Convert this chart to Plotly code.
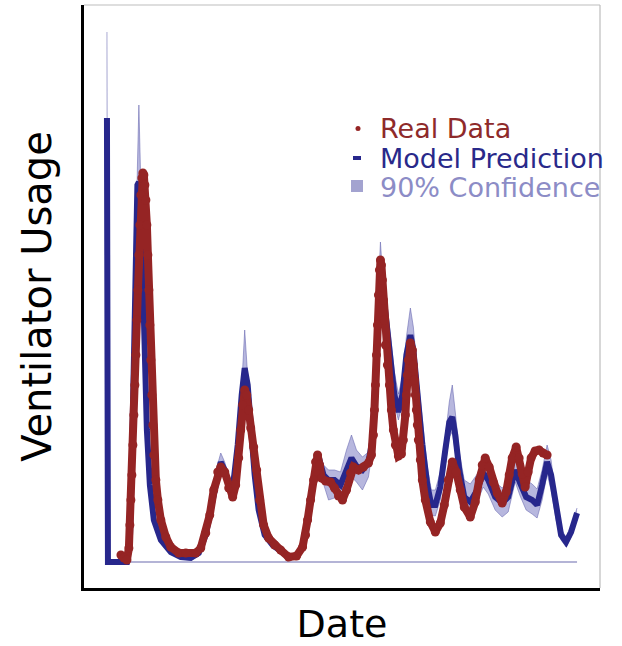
import plotly.graph_objects as go

# ---------------- data (day index, ventilator usage) ----------------
model_days = [0, 1, 20, 23, 25, 27, 29, 30.5, 32, 34, 36, 38, 40, 43, 47, 54, 64, 74, 84, 92,
              99, 106, 111, 114, 118, 123, 127, 131, 135, 138, 141, 144, 148, 152, 158, 166, 174, 182, 190, 196,
              201, 206, 210, 213, 217, 222, 228, 234, 240, 245, 250, 256, 262, 266, 269, 272, 274, 276, 280, 284,
              288, 292, 296, 300, 304, 307, 311, 316, 321, 325, 329, 334, 339, 343, 346, 349, 353, 358, 364, 371,
              377, 382, 389, 396, 402, 409, 414, 420, 426, 431, 436, 441, 445, 450, 455, 460, 465, 471]
model_pred = [444, 0, 0, 22, 102, 212, 322, 377, 380, 347, 282, 202, 132, 77, 42, 22, 10, 5, 4, 9,
              27, 62, 90, 100, 92, 72, 82, 117, 167, 194, 177, 132, 87, 52, 27, 17, 10, 5, 6, 14,
              40, 72, 100, 102, 87, 82, 82, 77, 94, 104, 96, 92, 100, 122, 182, 262, 292, 277, 237, 202,
              167, 150, 167, 207, 227, 212, 167, 117, 77, 57, 57, 75, 112, 140, 145, 127, 92, 65, 60, 72,
              89, 82, 65, 59, 65, 92, 79, 65, 62, 57, 77, 100, 87, 52, 27, 20, 30, 49]
ci_upper = [530, 0, 2, 27, 108, 220, 332, 395, 457, 360, 292, 210, 138, 82, 46, 25, 12, 7, 6, 12,
            31, 68, 98, 109, 100, 82, 90, 125, 175, 232, 180, 140, 94, 58, 31, 20, 12, 7, 8, 17,
            45, 78, 106, 108, 97, 92, 92, 90, 112, 127, 112, 105, 110, 132, 195, 275, 320, 290, 260, 228,
            190, 168, 185, 225, 254, 235, 190, 140, 95, 72, 72, 90, 125, 160, 177, 150, 110, 82, 78, 88,
            102, 97, 80, 74, 80, 105, 95, 82, 78, 73, 92, 117, 102, 62, 33, 25, 35, 54]
ci_lower = [440, 0, 0, 18, 96, 204, 312, 365, 370, 335, 272, 194, 126, 72, 38, 19, 8, 3, 2, 6,
            23, 56, 82, 92, 85, 64, 72, 108, 160, 180, 165, 124, 80, 46, 23, 14, 8, 3, 4, 11,
            35, 66, 96, 96, 78, 62, 64, 62, 78, 85, 80, 72, 85, 112, 170, 250, 280, 268, 225, 190,
            158, 142, 158, 195, 215, 200, 150, 105, 65, 47, 46, 62, 100, 125, 130, 110, 78, 52, 48, 60,
            75, 68, 52, 45, 50, 80, 66, 52, 48, 44, 62, 88, 72, 42, 22, 15, 25, 44]

real_days = [14, 17, 20, 22, 23, 24, 25, 26, 27, 28, 29, 30, 31, 32, 33, 34, 35, 36, 37, 38,
             39, 40, 41, 42, 43, 44, 45, 46, 47, 49, 51, 54, 59, 64, 72, 79, 89, 94, 99, 103,
             107, 111, 114, 118, 122, 126, 129, 132, 134, 136, 138, 140, 142, 144, 147, 150, 153, 157, 162, 168,
             174, 182, 190, 196, 199, 201, 204, 207, 209, 211, 213, 215, 219, 224, 228, 232, 236, 240, 244, 247,
             252, 257, 262, 265, 267, 268, 269, 270, 271, 272, 273, 274, 275, 276, 277, 278, 279, 281, 283, 285,
             287, 289, 292, 295, 297, 299, 300, 301, 302, 304, 306, 307, 308, 309, 310, 311, 312, 314, 316, 319,
             324, 329, 334, 338, 342, 346, 350, 354, 358, 364, 369, 373, 376, 379, 383, 387, 391, 396, 400, 403,
             406, 410, 413, 416, 419, 422, 425, 429, 433, 437, 441]
real_usage = [7, 4, 2, 14, 37, 62, 87, 117, 147, 177, 207, 242, 272, 307, 337, 367, 384, 389, 387, 377,
              362, 337, 307, 272, 237, 202, 167, 137, 107, 82, 62, 42, 25, 15, 9, 9, 9, 14, 29, 47,
              72, 90, 95, 90, 74, 65, 77, 104, 132, 157, 172, 167, 152, 134, 115, 92, 62, 37, 24, 17,
              12, 5, 6, 15, 27, 42, 62, 82, 100, 107, 97, 84, 81, 80, 74, 66, 62, 72, 89, 95,
              92, 95, 99, 107, 127, 152, 177, 207, 237, 267, 292, 302, 297, 282, 262, 242, 217, 197, 177, 152,
              132, 117, 106, 108, 122, 147, 167, 187, 202, 219, 212, 197, 182, 167, 152, 137, 122, 102, 82, 62,
              40, 30, 39, 57, 82, 100, 90, 72, 55, 45, 60, 82, 97, 104, 95, 80, 69, 59, 70, 87,
              104, 115, 104, 88, 75, 90, 104, 111, 112, 109, 107]

legend_labels = ["Real Data", "Model Prediction", "90% Confidence"]
x_title = "Date"
y_title = "Ventilator Usage"

RED = "#952424"
NAVY = "#27278c"
BAND_FILL = "rgba(112,112,190,0.5)"
BAND_EDGE = "rgba(100,100,175,0.55)"

FONT = "DejaVu Sans"
W, H = 622, 646
ML, MR, MT, MB = 84, 22, 5, 58

fig = go.Figure()

# confidence band
fig.add_trace(go.Scatter(x=model_days, y=ci_upper, mode="lines",
                         line=dict(color=BAND_EDGE, width=1), showlegend=False, hoverinfo="skip"))
fig.add_trace(go.Scatter(x=model_days, y=ci_lower, mode="lines", fill="tonexty",
                         fillcolor=BAND_FILL, line=dict(color=BAND_EDGE, width=1),
                         showlegend=False, hoverinfo="skip"))
# zero baseline
fig.add_trace(go.Scatter(x=[model_days[0], model_days[-1]], y=[0, 0], mode="lines",
                         line=dict(color="#b4b4d6", width=2), showlegend=False, hoverinfo="skip"))
# model prediction
fig.add_trace(go.Scatter(x=model_days, y=model_pred, mode="lines", name=legend_labels[1],
                         line=dict(color=NAVY, width=6), showlegend=False))
# real data
fig.add_trace(go.Scatter(x=real_days, y=real_usage, mode="lines+markers", name=legend_labels[0],
                         line=dict(color=RED, width=8),
                         marker=dict(color=RED, size=9), showlegend=False))

def px_x(p):
    return (p - ML) / (W - ML - MR)

def px_y(p):
    return 1 - (p - MT) / (H - MT - MB)

# legend (manual, to match compact spacing)
rows = [128, 158, 187]
text_colors = ["#8e2a2a", "#29298a", "#8c8cc6"]
annotations = []
for lab, yy, col in zip(legend_labels, rows, text_colors):
    annotations.append(dict(xref="paper", yref="paper", x=px_x(378), y=px_y(yy),
                            xanchor="left", yanchor="middle", showarrow=False,
                            text=lab, font=dict(family=FONT, size=27, color=col)))
shapes = [
    # frame top & right (thin grey)
    dict(type="line", xref="paper", yref="paper", x0=0, x1=1, y0=1, y1=1,
         line=dict(color="#bdbdbd", width=1.2)),
    dict(type="line", xref="paper", yref="paper", x0=1, x1=1, y0=0, y1=1,
         line=dict(color="#bdbdbd", width=1.2)),
    # legend swatches
    dict(type="circle", xref="paper", yref="paper", x0=px_x(355.5), x1=px_x(360.5),
         y0=px_y(131), y1=px_y(126), fillcolor=RED, line=dict(width=0)),
    dict(type="rect", xref="paper", yref="paper", x0=px_x(353), x1=px_x(361),
         y0=px_y(160), y1=px_y(156), fillcolor=NAVY, line=dict(width=0)),
    dict(type="rect", xref="paper", yref="paper", x0=px_x(351), x1=px_x(363),
         y0=px_y(192), y1=px_y(180), fillcolor="#a3a3d0", line=dict(width=0)),
]

fig.update_layout(
    width=W, height=H,
    margin=dict(l=ML, r=MR, t=MT, b=MB),
    paper_bgcolor="white", plot_bgcolor="white",
    font=dict(family=FONT, color="black"),
    annotations=annotations, shapes=shapes,
    showlegend=False,
)
fig.update_xaxes(range=[-23, 494], showgrid=False, zeroline=False, showticklabels=False, ticks="",
                 showline=True, linecolor="black", linewidth=3,
                 title=dict(text=x_title, font=dict(family=FONT, size=38, color="black"), standoff=22))
fig.update_yaxes(range=[-26, 557], showgrid=False, zeroline=False, showticklabels=False, ticks="",
                 showline=True, linecolor="black", linewidth=3,
                 title=dict(text=y_title, font=dict(family=FONT, size=40, color="black"), standoff=18))

fig.write_html("out.html")
